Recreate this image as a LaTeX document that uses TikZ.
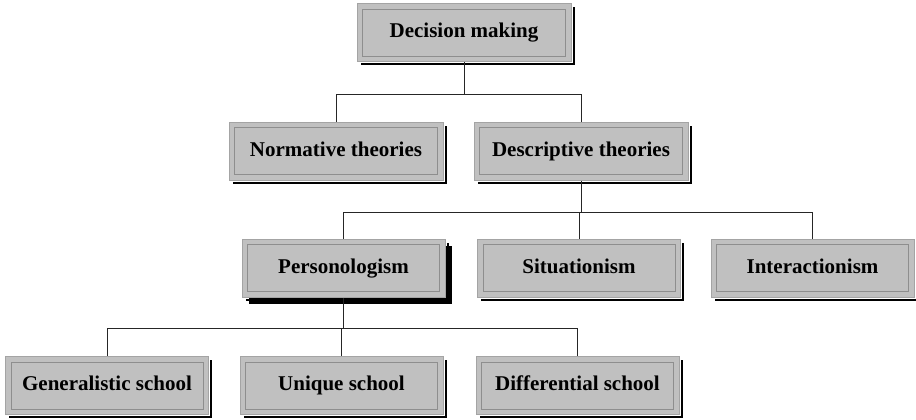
\documentclass[tikz,border=0pt]{standalone}
\usepackage{fontspec}
\setmainfont{Liberation Serif}
\usetikzlibrary{shadows}
\definecolor{boxfill}{HTML}{C0C0C0}
\definecolor{boxedge}{HTML}{A4A4A4}
\definecolor{inneredge}{HTML}{8E8E8E}
\begin{document}
\begin{tikzpicture}[x=1pt,y=1pt,
  box/.style={
    drop shadow={shadow xshift=3.5pt, shadow yshift=-3.5pt, fill=black, opacity=1},
    preaction={draw=white, line width=3pt},
    fill=boxfill, draw=boxedge, line width=1pt,
    minimum height=58pt, inner sep=0pt,
    text height=14pt, text depth=4pt,
    font=\fontsize{21}{25}\selectfont\bfseries},
  thickshadow/.style={
    drop shadow={shadow xshift=7pt, shadow yshift=-7pt, fill=black, opacity=1}},
  wideb/.style={minimum width=214pt},
  narrowb/.style={minimum width=203pt},
  inner/.style={draw=inneredge, line width=1pt},
  link/.style={draw=black!85, line width=0.8pt}]
\useasboundingbox (0,0) rectangle (916,420);

% top level
\node[box,wideb] (dm) at (464,387) {Decision making};
% theories
\node[box,wideb] (nt) at (336,268.5) {Normative theories};
\node[box,wideb] (dt) at (581,268.5) {Descriptive theories};
% descriptive approaches
\node[box,narrowb,thickshadow] (pe) at (343.5,151.5) {Personologism};
\node[box,narrowb] (si) at (579,151.5) {Situationism};
\node[box,narrowb] (ia) at (812.5,151.5) {Interactionism};
% schools of personologism
\node[box,narrowb] (gs) at (107,34) {Generalistic school};
\node[box,narrowb] (us) at (341.5,34) {Unique school};
\node[box,narrowb] (ds) at (577.5,34) {Differential school};

% inset frames inside each box
\foreach \n in {dm,nt,dt,pe,si,ia,gs,us,ds}{
  \draw[inner] ([shift={(6pt,-6pt)}]\n.north west) rectangle ([shift={(-6pt,6pt)}]\n.south east);
}

% bus levels
\coordinate (bA) at (0,326);
\coordinate (bB) at (0,208);
\coordinate (bC) at (0,92);

\draw[link] (dm.south) -- (dm.south |- bA) -| (nt.north);
\draw[link] (dm.south |- bA) -| (dt.north);

\draw[link] (dt.south) -- (dt.south |- bB) -| (pe.north);
\draw[link] (dt.south |- bB) -| (si.north);
\draw[link] (dt.south |- bB) -| (ia.north);

\draw[link] (pe.south) -- (pe.south |- bC) -| (gs.north);
\draw[link] (pe.south |- bC) -| (us.north);
\draw[link] (pe.south |- bC) -| (ds.north);
\end{tikzpicture}
\end{document}
